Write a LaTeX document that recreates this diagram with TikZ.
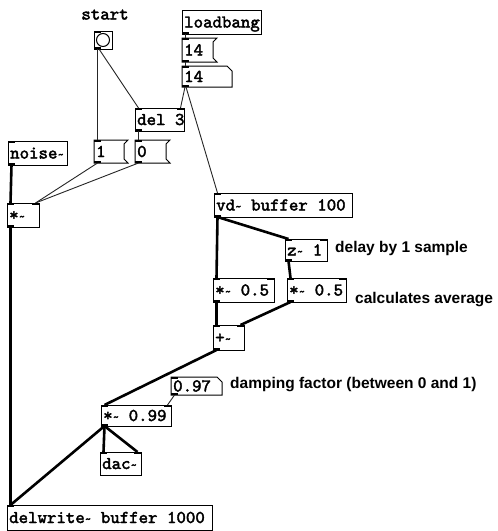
\documentclass[tikz,border=0pt]{standalone}
\usepackage{fontspec}
\setmainfont{Liberation Sans}
\newfontfamily\pdsans{Liberation Sans}
\newfontfamily\pdmono[FakeBold=2.2]{lmmono10-regular.otf}
\newcommand\tld{\scalebox{0.7}{\textasciitilde}}
\tikzset{
  box/.style={draw=black, line width=1pt, outer sep=0pt, inner sep=0pt, rectangle},
  plainbox/.style={draw=none, outer sep=0pt, inner sep=0pt, rectangle},
  txt/.style={anchor=west, inner sep=0pt, font=\pdmono\fontsize{18}{18}\selectfont, text height=11pt, text depth=0pt},
  cmt/.style={anchor=west, inner sep=0pt, font=\pdsans\bfseries\fontsize{15.5}{16}\selectfont},
  ctl/.style={line width=0.9pt, draw=black!85},
  sig/.style={line width=2.6pt, draw=black},
}
% object box: name, x1, y1, w, h, text
\newcommand\pdobj[6]{%
  \node[box, anchor=north west, minimum width=#4pt, minimum height=#5pt] (#1) at (#2,#3) {};
  \node[txt] (#1-t) at ([xshift=2pt]#1.west) {#6};}
% message box
\newcommand\pdmsg[6]{%
  \node[plainbox, anchor=north west, minimum width=#4pt, minimum height=#5pt] (#1) at (#2,#3) {};
  \draw[line width=1pt] (#1.north west) -- ([xshift=4pt]#1.north east) -- ([yshift=-4pt]#1.north east)
     -- ([yshift=4pt]#1.south east) -- ([xshift=4pt]#1.south east) -- (#1.south west) -- cycle;
  \node[txt] (#1-t) at ([xshift=2pt]#1.west) {#6};}
% number box
\newcommand\pdnum[6]{%
  \node[plainbox, anchor=north west, minimum width=#4pt, minimum height=#5pt] (#1) at (#2,#3) {};
  \draw[line width=1pt] (#1.north west) -- ([xshift=-5pt]#1.north east) -- ([yshift=-5pt]#1.north east)
     -- (#1.south east) -- (#1.south west) -- cycle;
  \node[txt] (#1-t) at ([xshift=2pt]#1.west) {#6};}
% iolets
\newcommand\inL[1]{\fill (#1.north west) rectangle ([xshift=7pt,yshift=-2pt]#1.north west);}
\newcommand\inR[1]{\fill (#1.north east) rectangle ([xshift=-7pt,yshift=-2pt]#1.north east);}
\newcommand\outL[1]{\fill (#1.south west) rectangle ([xshift=7pt,yshift=2pt]#1.south west);}
\begin{document}
\begin{tikzpicture}[x=1pt,y=-1pt]
\fill[white] (0,0) rectangle (498,531);
\useasboundingbox (0,0) rectangle (498,531);

% ---- boxes ----
\node[txt, anchor=center] (start) at (105,14) {start};
\node[box, anchor=north west, minimum width=18pt, minimum height=18pt] (bang) at (94,31) {};
\draw[line width=1pt] (bang.center) circle (6.5pt);

\pdobj{loadbang}{182}{10}{79}{24}{loadbang}
\pdmsg{m14}{182}{38}{31}{24}{14}
\pdnum{n14}{182}{66}{50}{21}{14}
\pdobj{del}{135}{108}{49}{23}{del 3}
\pdmsg{m1}{94}{140}{30}{23}{1}
\pdmsg{m0}{135}{140}{31}{23}{0}
\pdobj{noise}{8}{141}{59}{24}{noise\tld}
\pdobj{mulL}{7}{203}{32}{24}{*\tld}
\pdobj{vd}{214}{193}{138}{24}{vd\tld{} buffer 100}
\pdobj{z}{285}{239}{42}{22}{z\tld{} 1}
\pdobj{mA}{213}{278}{61}{24}{*\tld{} 0.5}
\pdobj{mB}{287}{278}{59}{24}{*\tld{} 0.5}
\pdobj{plus}{213}{325}{31}{25}{+\tld}
\pdnum{n097}{171}{377}{51}{18}{0.97}
\pdobj{m99}{101}{405}{70}{21}{*\tld{} 0.99}
\pdobj{dac}{100}{452}{41}{23}{dac\tld}
\pdobj{dw}{7}{505}{205}{25}{delwrite\tld{} buffer 1000}

% ---- comments ----
\node[cmt] (c1) at (335,248) {delay by 1 sample};
\node[cmt] (c2) at (355,300) {calculates average};
\node[cmt] (c3) at (230,385) {damping factor (between 0 and 1)};

% ---- control connections ----
\draw[ctl] ([xshift=3.5pt]bang.south west) -- ([xshift=3.5pt]m1.north west);
\draw[ctl] ([xshift=5pt]bang.south west) -- ([xshift=3.5pt]del.north west);
\draw[ctl] ([xshift=3.5pt]loadbang.south west) -- ([xshift=3.5pt]m14.north west);
\draw[ctl] ([xshift=3.5pt]m14.south west) -- ([xshift=3.5pt]n14.north west);
\draw[ctl] ([xshift=3pt]n14.south west) -- ([xshift=-3.5pt]del.north east);
\draw[ctl] ([xshift=4pt]n14.south west) -- ([xshift=3.5pt]vd.north west);
\draw[ctl] ([xshift=3.5pt]del.south west) -- ([xshift=3.5pt]m0.north west);
\draw[ctl] ([xshift=3.5pt]m1.south west) -- ([xshift=-3.5pt]mulL.north east);
\draw[ctl] ([xshift=3.5pt]m0.south west) -- ([xshift=-3.5pt]mulL.north east);
\draw[ctl] ([xshift=3.5pt]n097.south west) -- ([xshift=-3.5pt]m99.north east);

% ---- signal connections ----
\draw[sig] ([xshift=3.5pt]noise.south west) -- ([xshift=3.5pt]mulL.north west);
\draw[sig] ([xshift=3.5pt]mulL.south west) -- ([xshift=3.5pt]dw.north west);
\draw[sig] ([xshift=3.5pt]vd.south west) -- ([xshift=3.5pt]mA.north west);
\draw[sig] ([xshift=3.5pt]vd.south west) -- ([xshift=3.5pt]z.north west);
\draw[sig] ([xshift=3.5pt]z.south west) -- ([xshift=3.5pt]mB.north west);
\draw[sig] ([xshift=3.5pt]mA.south west) -- ([xshift=3.5pt]plus.north west);
\draw[sig] ([xshift=3.5pt]mB.south west) -- ([xshift=-3.5pt]plus.north east);
\draw[sig] ([xshift=3.5pt]plus.south west) -- ([xshift=3.5pt]m99.north west);
\draw[sig] ([xshift=3.5pt]m99.south west) -- ([xshift=3.5pt]dac.north west);
\draw[sig] ([xshift=3.5pt]m99.south west) -- ([xshift=-3.5pt]dac.north east);
\draw[sig] ([xshift=3.5pt]m99.south west) -- ([xshift=3.5pt]dw.north west);

% ---- iolets ----
\inL{bang}\outL{bang}
\outL{loadbang}
\inL{m14}\outL{m14}
\inL{n14}\outL{n14}
\inL{del}\inR{del}\outL{del}
\inL{m1}\outL{m1}
\inL{m0}\outL{m0}
\inL{noise}\outL{noise}
\inL{mulL}\inR{mulL}\outL{mulL}
\inL{vd}\outL{vd}
\inL{z}\inR{z}\outL{z}
\inL{mA}\inR{mA}\outL{mA}
\inL{mB}\inR{mB}\outL{mB}
\inL{plus}\inR{plus}\outL{plus}
\inL{n097}\outL{n097}
\inL{m99}\inR{m99}\outL{m99}
\inL{dac}\inR{dac}
\inL{dw}
\end{tikzpicture}
\end{document}
